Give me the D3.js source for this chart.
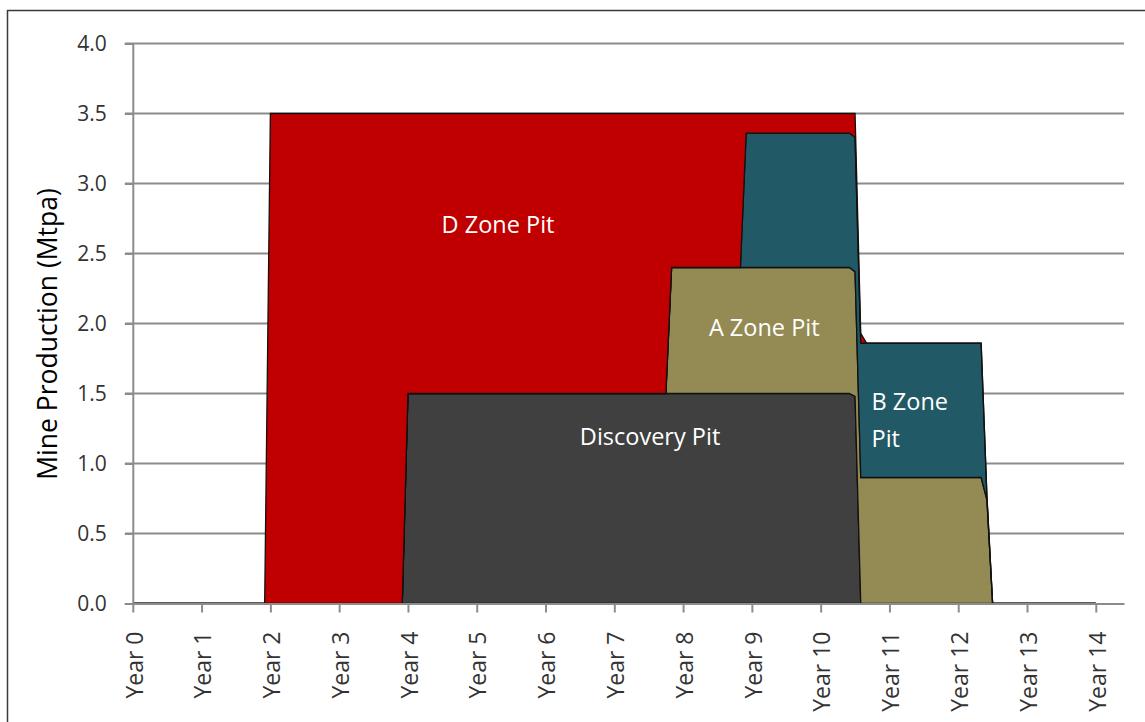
<!DOCTYPE html>
<html>
<head>
<meta charset="utf-8">
<script src="https://cdn.jsdelivr.net/npm/d3@7"></script>
<style>
  html, body { margin: 0; padding: 0; background: #ffffff; }
  svg { display: block; }
</style>
</head>
<body>
<svg id="chart" width="1145" height="722"></svg>
<script>
// ---- Data (years on a continuous time axis, production in Mtpa) ----
const times     = [0, 1.917, 2.0, 3.917, 4.0, 7.75, 7.833, 8.833, 8.917, 10.417, 10.5, 10.583, 10.667, 12.333, 12.417, 12.5, 14];
const discovery = [0, 0,     0,   0,     1.5, 1.5,  1.5,   1.5,   1.5,   1.5,    1.48, 0,      0,      0,      0,      0,    0];
const aZone     = [0, 0,     0,   0,     0,   0,    0.9,   0.9,   0.9,   0.9,    0.89, 0.9,    0.9,    0.9,    0.74,   0,    0];
const bZone     = [0, 0,     0,   0,     0,   0,    0,     0,     0.96,  0.96,   0.96, 0.96,   0.96,   0.96,   0.03,   0,    0];
const dZone     = [0, 0,     3.5, 3.5,   2.0, 2.0,  1.1,   1.1,   0.14,  0.14,   0.17, 0.07,   0,      0,      0,      0,    0];

const seriesNames  = ["Discovery Pit", "A Zone Pit", "B Zone Pit", "D Zone Pit"];
const seriesKeys   = ["discovery", "aZone", "bZone", "dZone"];
const seriesColors = ["#404040", "#948A54", "#215967", "#C00000"];

const yearTicks  = d3.range(0, 15);
const yearLabels = yearTicks.map(d => "Year " + d);
const yTicks     = [0, 0.5, 1.0, 1.5, 2.0, 2.5, 3.0, 3.5, 4.0];

// ---- Setup ----
const svg = d3.select("#chart");

// outer frame
svg.append("rect")
  .attr("x", 7.5).attr("y", 10.5)
  .attr("width", 1160).attr("height", 740)
  .attr("fill", "#ffffff")
  .attr("stroke", "#3a3a3a").attr("stroke-width", 1.5);

const x = d3.scaleLinear().domain([0, 14.41]).range([132.8, 1124]);
const y = d3.scaleLinear().domain([0, 4]).range([603.5, 43.5]);

// gridlines
svg.append("g").selectAll("line").data(yTicks.filter(d => d > 0)).join("line")
  .attr("x1", 125).attr("x2", 1124)
  .attr("y1", d => y(d)).attr("y2", d => y(d))
  .attr("stroke", "#8c8c8c").attr("stroke-width", 2);

// stacked areas
const table = times.map((t, i) => ({
  t, discovery: discovery[i], aZone: aZone[i], bZone: bZone[i], dZone: dZone[i]
}));
const stacked = d3.stack().keys(seriesKeys)(table);

const area = d3.area()
  .x(d => x(d.data.t))
  .y0(d => y(d[0]))
  .y1(d => y(d[1]));

svg.append("g").selectAll("path").data(stacked).join("path")
  .attr("d", area)
  .attr("fill", (d, i) => seriesColors[i])
  .attr("stroke", "#111111")
  .attr("stroke-width", 1.3)
  .attr("stroke-linejoin", "miter");

// y axis
const yAxis = d3.axisLeft(y).tickValues(yTicks).tickFormat(d3.format(".1f")).tickSize(8).tickPadding(18);
const gy = svg.append("g").attr("transform", "translate(132.8,0)").call(yAxis);
gy.select(".domain").attr("stroke", "#8c8c8c").attr("stroke-width", 2);
gy.selectAll(".tick line").attr("stroke", "#8c8c8c").attr("stroke-width", 2);
gy.selectAll(".tick text")
  .attr("font-family", "'Open Sans', sans-serif")
  .attr("font-size", 21).attr("fill", "#333333");

// x axis
const xAxis = d3.axisBottom(x).tickValues(yearTicks).tickFormat((d, i) => yearLabels[i]).tickSize(9).tickSizeOuter(0);
const gx = svg.append("g").attr("transform", "translate(0,603.5)").call(xAxis);
gx.select(".domain").attr("stroke", "#8c8c8c").attr("stroke-width", 2);
gx.selectAll(".tick line").attr("stroke", "#8c8c8c").attr("stroke-width", 2);
gx.selectAll(".tick text")
  .attr("font-family", "'Open Sans', sans-serif")
  .attr("font-size", 23).attr("fill", "#333333")
  .attr("text-anchor", "end")
  .attr("transform", "rotate(-90)")
  .attr("x", -28).attr("y", 0).attr("dy", "0.4em");

// y axis title
svg.append("text")
  .attr("transform", "translate(57,334) rotate(-90)")
  .attr("text-anchor", "middle")
  .attr("font-family", "'Open Sans', sans-serif")
  .attr("font-size", 26.5).attr("fill", "#000000")
  .text("Mine Production (Mtpa)");

// series labels
const labelFont = "'Open Sans', sans-serif";
const labels = [
  { text: "D Zone Pit",    t: 5.31, v: 2.65, anchor: "middle" },
  { text: "A Zone Pit",    t: 9.18, v: 1.91, anchor: "middle" },
  { text: "Discovery Pit", t: 7.52, v: 1.13, anchor: "middle" },
  { text: "B Zone",        t: 10.74, v: 1.38, anchor: "start" },
  { text: "Pit",           t: 10.74, v: 1.12, anchor: "start" }
];
svg.append("g").selectAll("text").data(labels).join("text")
  .attr("x", d => x(d.t)).attr("y", d => y(d.v))
  .attr("text-anchor", d => d.anchor)
  .attr("font-family", labelFont)
  .attr("font-size", 23.5).attr("fill", "#ffffff")
  .text(d => d.text);
</script>
</body>
</html>
